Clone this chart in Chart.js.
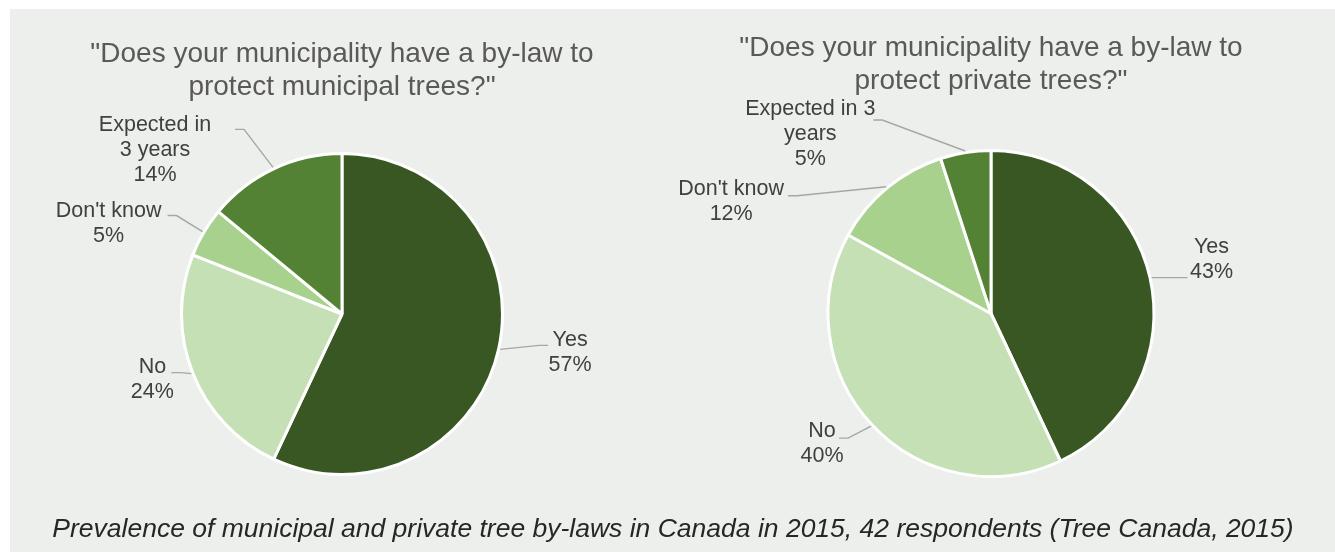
<!DOCTYPE html>
<html>
<head>
<meta charset="utf-8">
<script src="https://cdn.jsdelivr.net/npm/chart.js@4/dist/chart.umd.min.js"></script>
<style>
  html, body { margin:0; padding:0; background:#ffffff; }
  #wrap { position:relative; width:1335px; height:552px; overflow:hidden; }
  #bg { position:absolute; left:10px; top:9px; right:0; bottom:0; background:#EDEFEC; }
  canvas { position:absolute; left:0; top:0; }
  #caption { position:absolute; left:0; width:1346px; top:512px; text-align:center; white-space:nowrap;
    font-family:"Liberation Sans", Arial, sans-serif; font-style:italic; font-size:26.5px; color:#262626; line-height:32px; }
</style>
</head>
<body>
<div id="wrap">
  <div id="bg"></div>
  <canvas id="c1" width="1335" height="552"></canvas>
  <canvas id="c2" width="1335" height="552"></canvas>
  <div id="caption">Prevalence of municipal and private tree by-laws in Canada in 2015, 42 respondents (Tree Canada, 2015)</div>
</div>
<script>
// ---- data ----
const leftTitle = ['"Does your municipality have a by-law to', 'protect municipal trees?"'];
const leftCategories = ['Yes', 'No', "Don't know", ['Expected in', '3 years']];
const leftValues = [57, 24, 5, 14];

const rightTitle = ['"Does your municipality have a by-law to', 'protect private trees?"'];
const rightCategories = ['Yes', 'No', "Don't know", ['Expected in 3', 'years']];
const rightValues = [43, 40, 12, 5];

// ---- styles / layout ----
const sliceColors = ['#385723', '#C5E0B4', '#A9D18E', '#548235'];
// [leaderEndDx, leaderEndDy, textCenterDx, firstBaselineDy] relative to slice edge midpoint
const leftLabelOffsets = [[48,-4,70,-3],[-20,-1,-39,-1],[-35,-16,-94,-15],[-38,-38,-118,-36]];
const rightLabelOffsets = [[36,0,60,-25],[-32,12,-49,11],[-98,9,-155,8],[-92,-31,-155,-36]];
const BORDER = 3;

function labelPlugin(cfg) {
  return {
    id: 'sliceLabels',
    afterDraw(chart) {
      const ctx = chart.ctx;
      const meta = chart.getDatasetMeta(0);
      const vals = chart.data.datasets[0].data;
      const total = vals.reduce((a, b) => a + b, 0);
      ctx.save();
      // title
      const ca = chart.chartArea;
      const cx = (ca.left + ca.right) / 2;
      ctx.font = '28px "Liberation Sans", Arial, sans-serif';
      ctx.fillStyle = '#595959';
      ctx.textAlign = 'center';
      ctx.textBaseline = 'alphabetic';
      cfg.title.forEach((t, k) => ctx.fillText(t, cx, cfg.titleBaselines[k]));
      // slice labels
      meta.data.forEach((arc, i) => {
        const p = arc.getProps(['x','y','startAngle','endAngle','outerRadius'], true);
        const mid = (p.startAngle + p.endAngle) / 2;
        const r = p.outerRadius + BORDER / 2;
        const ax = p.x + r * Math.cos(mid);
        const ay = p.y + r * Math.sin(mid);
        const o = cfg.offsets[i];
        const ex = ax + o[0], ey = ay + o[1];
        const bx = ex + Math.sign(ax - ex) * 9;
        ctx.beginPath();
        ctx.moveTo(ax, ay);
        ctx.lineTo(bx, ey);
        ctx.lineTo(ex, ey);
        ctx.strokeStyle = '#A6A6A6';
        ctx.lineWidth = 1.4;
        ctx.stroke();
        const cat = chart.data.labels[i];
        const lines = (Array.isArray(cat) ? cat.slice() : [cat]);
        lines.push(Math.round(vals[i] / total * 100) + '%');
        ctx.font = '21.5px "Liberation Sans", Arial, sans-serif';
        ctx.fillStyle = '#404040';
        ctx.textAlign = 'center';
        lines.forEach((ln, k) => ctx.fillText(ln, ax + o[2], ay + o[3] + k * 25));
      });
      ctx.restore();
    }
  };
}

function makeChart(id, cats, vals, cfg, pad) {
  return new Chart(document.getElementById(id), {
    type: 'pie',
    data: {
      labels: cats,
      datasets: [{ data: vals, backgroundColor: sliceColors, borderColor: '#FFFFFF', borderWidth: BORDER }]
    },
    options: {
      responsive: false,
      animation: false,
      events: [],
      layout: { padding: pad },
      plugins: { legend: { display: false }, tooltip: { enabled: false } }
    },
    plugins: [labelPlugin(cfg)]
  });
}

makeChart('c1', leftCategories, leftValues,
  { title: leftTitle, titleBaselines: [62, 94.5], offsets: leftLabelOffsets },
  { left: 180, top: 152, right: 831, bottom: 76 });
makeChart('c2', rightCategories, rightValues,
  { title: rightTitle, titleBaselines: [56, 88.5], offsets: rightLabelOffsets },
  { left: 826.5, top: 149, right: 179.5, bottom: 74 });
</script>
</body>
</html>
